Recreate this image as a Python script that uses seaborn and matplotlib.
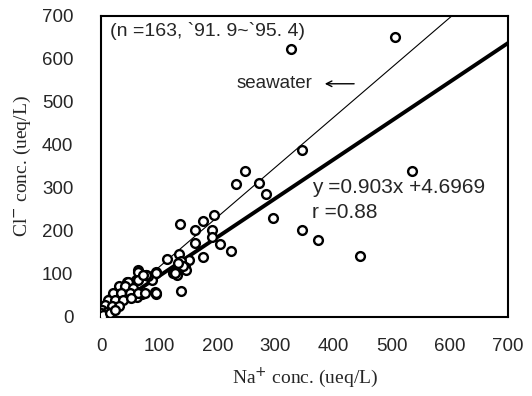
import numpy as np
import pandas as pd
import matplotlib
matplotlib.use("Agg")
import matplotlib.pyplot as plt
import seaborn as sns

# Na+ vs Cl- (ueq/L)
na = [326, 506, 345, 535, 295, 345, 373, 445,
      247, 232, 271, 283,
      135, 161, 175, 195, 191, 191, 161, 205, 224, 175, 152, 134, 114, 138,
      123, 131, 144, 146, 138, 95, 141, 132, 127, 92,
      95, 88, 81, 64, 66, 77, 60, 44, 44, 34, 48, 50, 62, 71, 34, 15, 21,
      64, 78, 95, 47, 63, 94, 30, 41, 55, 21, 35, 50, 64, 75,
      12, 24, 38, 52, 7, 18, 30, 1, 10, 0, 4, 15, 24, 72]
cl = [623, 650, 388, 340, 229, 202, 179, 142,
      340, 309, 311, 286,
      216, 202, 222, 236, 201, 186, 171, 169, 153, 140, 131, 146, 134, 129,
      103, 98, 116, 108, 61, 53, 119, 125, 102, 57,
      105, 86, 94, 108, 103, 98, 86, 82, 63, 69, 67, 46, 46, 53, 48, 41, 26,
      105, 98, 102, 82, 86, 55, 71, 71, 67, 55, 55, 55, 55, 55,
      40, 40, 40, 43, 28, 24, 24, 16, 12, 8, 5, 9, 16, 98]

# regression and seawater ratio
slope, intercept = 0.903, 4.6969
seawater_ratio = 1.16

df = pd.DataFrame({"na": na, "cl": cl})

sns.set_style("white")
plt.rcParams['font.family'] = ['Liberation Sans', 'DejaVu Sans']

fig = plt.figure(figsize=(5.32, 3.96), dpi=100)
ax = fig.add_axes([0.19, 0.2, 0.765, 0.76])

line_x = np.array([0, 700])
sns.lineplot(x=line_x, y=line_x * seawater_ratio, color="black", linewidth=0.8, ax=ax)
sns.lineplot(x=line_x, y=slope * line_x + intercept, color="black", linewidth=2.8, ax=ax)
sns.scatterplot(data=df, x="na", y="cl", facecolor="white", edgecolor="black",
                linewidth=1.7, s=40, ax=ax, zorder=3)

ax.set_xlim(0, 700)
ax.set_ylim(0, 700)
ax.set_xticks(range(0, 701, 100))
ax.set_yticks(range(0, 701, 100))
ax.tick_params(direction="in", length=4, width=1, labelsize=13.5)
ax.tick_params(axis="x", pad=15)
ax.tick_params(axis="y", pad=20)
for s in ax.spines.values():
    s.set_color("black")
    s.set_linewidth(1.5)

ax.set_xlabel("Na$^{+}$ conc. (ueq/L)", family="Liberation Serif", fontsize=14, labelpad=8)
ax.set_ylabel("Cl$^{-}$ conc. (ueq/L)", family="Liberation Serif", fontsize=14, labelpad=6)

ax.text(15, 664, "(n =163, `91. 9~`95. 4)", fontsize=14, va="center")
ax.text(233, 542, "seawater", fontsize=13.5, va="center")
ax.annotate("", xy=(380, 542), xytext=(440, 542),
            arrowprops=dict(arrowstyle="->", color="black", lw=1))
ax.text(363, 300, "y =0.903x +4.6969", fontsize=15, va="center")
ax.text(363, 242, "r =0.88", fontsize=15, va="center")

plt.savefig("out.png", dpi=100)
plt.close()
